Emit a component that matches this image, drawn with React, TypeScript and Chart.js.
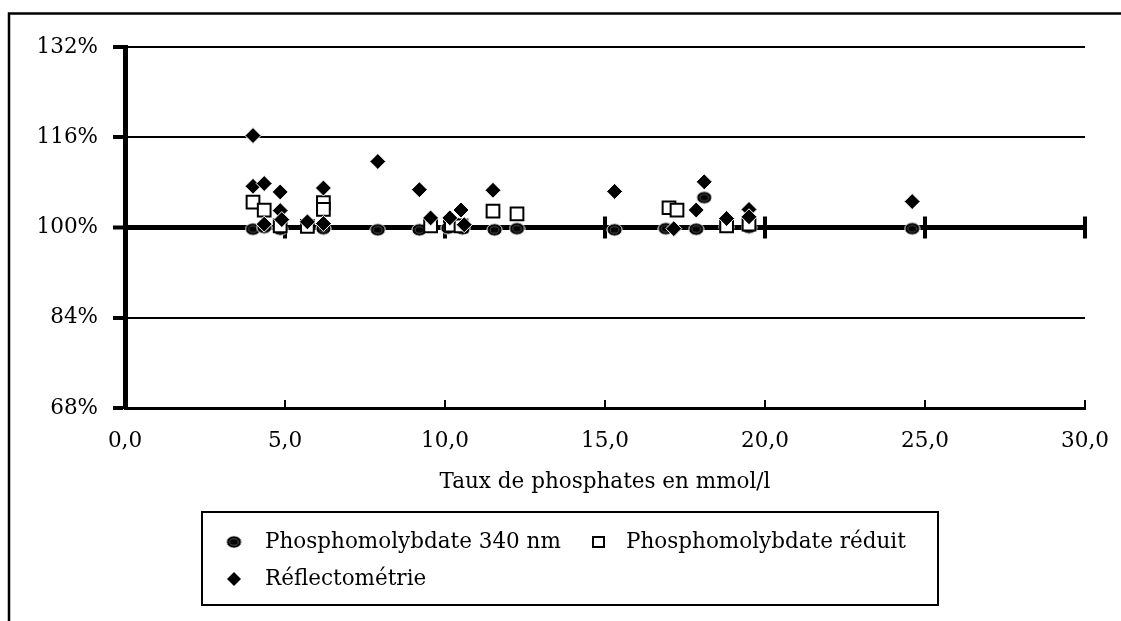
import React, { useEffect, useRef } from "react";
import { Chart, registerables } from "chart.js";

Chart.register(...registerables);

// ---- axis settings ----
const xMin = 0;
const xMax = 30;
const xStep = 5;
const yMin = 68;
const yMax = 132;
const yStep = 16;
const refValue = 100;
const xTitle = "Taux de phosphates en mmol/l";
const seriesNames = ["Phosphomolybdate 340 nm", "Phosphomolybdate réduit", "Réflectométrie"];

// ---- data: Phosphomolybdate 340 nm (circles) ----
const circX = [4.0, 4.35, 4.85, 6.2, 7.9, 9.2, 10.1, 10.55, 11.55, 12.25, 15.3, 16.9, 17.85, 18.1, 18.8, 19.5, 24.6];
const circY = [99.7, 100.0, 99.7, 99.8, 99.6, 99.6, 99.9, 99.8, 99.6, 99.8, 99.6, 99.8, 99.7, 105.3, 100.1, 100.0, 99.8];

// ---- data: Phosphomolybdate réduit (open squares) ----
const sqX = [4.0, 4.35, 4.85, 5.7, 6.2, 6.2, 9.55, 10.2, 10.5, 11.5, 12.25, 17.0, 17.25, 18.8, 19.5];
const sqY = [104.5, 103.1, 100.3, 100.2, 104.4, 103.2, 100.3, 100.4, 100.3, 102.9, 102.4, 103.5, 103.1, 100.3, 100.6];

// ---- data: Réflectométrie (diamonds) ----
const diaX = [4.0, 4.0, 4.35, 4.35, 4.85, 4.85, 4.9, 5.7, 6.2, 6.2, 7.9, 9.2, 9.55, 10.15, 10.5, 10.6, 11.5, 15.3, 17.15, 17.85, 18.1, 18.8, 19.5, 19.5, 24.6];
const diaY = [116.3, 107.3, 107.8, 100.6, 106.3, 103.0, 101.4, 101.0, 107.0, 100.7, 111.7, 106.7, 101.7, 101.7, 103.1, 100.5, 106.6, 106.4, 99.8, 103.1, 108.1, 101.6, 103.2, 101.9, 104.6];

const FONT_FAMILY = "'DejaVu Serif', serif";
const FONT_SIZE = 21.5;

function makeEllipse(): HTMLCanvasElement {
  const c = document.createElement("canvas");
  c.width = 17;
  c.height = 14;
  const g = c.getContext("2d")!;
  g.beginPath();
  g.ellipse(8.5, 7, 7.6, 6.2, 0, 0, Math.PI * 2);
  g.fillStyle = "#000";
  g.fill();
  g.lineWidth = 1;
  g.strokeStyle = "#fff";
  g.stroke();
  g.beginPath();
  g.ellipse(8.5, 7, 4.4, 3.2, 0, 0, Math.PI * 2);
  g.strokeStyle = "#555";
  g.stroke();
  return c;
}

const toPts = (xs: number[], ys: number[]) => xs.map((x, i) => ({ x, y: ys[i] }));

export default function App() {
  const ref = useRef<HTMLCanvasElement>(null);

  useEffect(() => {
    if (!ref.current) return;
    const ellipse = makeEllipse();
    const font = { family: FONT_FAMILY, size: FONT_SIZE };

    const decor = {
      id: "decor",
      beforeDatasetsDraw(chart: any) {
        const { ctx, chartArea, scales } = chart;
        const x = scales.x;
        const y = scales.y;
        const yRef = y.getPixelForValue(refValue);
        ctx.save();
        ctx.strokeStyle = "#000";
        for (let v = xMin + xStep; v <= xMax; v += xStep) {
          const px = x.getPixelForValue(v);
          ctx.lineWidth = 4;
          ctx.beginPath();
          ctx.moveTo(px, yRef - 11);
          ctx.lineTo(px, yRef + 11);
          ctx.stroke();
          ctx.lineWidth = 2;
          ctx.beginPath();
          ctx.moveTo(px, chartArea.bottom);
          ctx.lineTo(px, chartArea.bottom - 8);
          ctx.stroke();
        }
        ctx.restore();
      },
      afterDraw(chart: any) {
        const { ctx } = chart;
        ctx.save();
        // outer frame
        ctx.strokeStyle = "#000";
        ctx.lineWidth = 2.5;
        ctx.strokeRect(9, 13.5, 1300, 800);
        // legend box
        ctx.lineWidth = 2;
        ctx.strokeRect(202, 512, 736, 93);
        ctx.fillStyle = "#000";
        ctx.font = `${FONT_SIZE}px ${FONT_FAMILY}`;
        ctx.textBaseline = "middle";
        ctx.textAlign = "left";
        const row1 = 542;
        const row2 = 579;
        // item 1: ellipse
        ctx.drawImage(ellipse, 234 - 8.5, row1 - 7);
        ctx.fillText(seriesNames[0], 265, row1);
        // item 2: open square
        ctx.lineWidth = 2;
        ctx.fillStyle = "#fff";
        ctx.fillRect(593, row1 - 5, 11, 10);
        ctx.strokeRect(593, row1 - 5, 11, 10);
        ctx.fillStyle = "#000";
        ctx.fillText(seriesNames[1], 626, row1);
        // item 3: diamond
        ctx.beginPath();
        ctx.moveTo(234, row2 - 7);
        ctx.lineTo(241, row2);
        ctx.lineTo(234, row2 + 7);
        ctx.lineTo(227, row2);
        ctx.closePath();
        ctx.fill();
        ctx.fillText(seriesNames[2], 265, row2);
        ctx.restore();
      },
    };

    const chart = new Chart(ref.current, {
      type: "scatter",
      data: {
        datasets: [
          {
            label: seriesNames[0],
            data: toPts(circX, circY),
            pointStyle: ellipse as any,
            pointRadius: 7,
            order: 3,
          },
          {
            label: seriesNames[1],
            data: toPts(sqX, sqY),
            pointStyle: "rect",
            pointRadius: 9,
            backgroundColor: "#fff",
            borderColor: "#000",
            borderWidth: 2,
            order: 2,
          },
          {
            label: seriesNames[2],
            data: toPts(diaX, diaY),
            pointStyle: "rectRot",
            pointRadius: 8,
            backgroundColor: "#000",
            borderColor: "#fff",
            borderWidth: 1,
            order: 1,
          },
        ],
      },
      options: {
        responsive: false,
        animation: false,
        devicePixelRatio: 1,
        layout: { padding: { left: 0, top: 47, right: 36, bottom: 126 } },
        plugins: {
          legend: { display: false },
          tooltip: { enabled: false },
        },
        scales: {
          x: {
            type: "linear",
            min: xMin,
            max: xMax,
            ticks: {
              stepSize: xStep,
              color: "#000",
              font,
              padding: 21,
              maxRotation: 0,
              callback: (v: any) => Number(v).toFixed(1).replace(".", ","),
            },
            grid: { display: true, drawOnChartArea: false, drawTicks: false },
            border: { display: true, color: "#000", width: 3 },
            title: {
              display: true,
              text: xTitle,
              color: "#000",
              font,
              padding: { top: 0, bottom: 0 },
            },
            afterFit: (s: any) => {
              s.height = 87;
              s.paddingLeft = 0;
              s.paddingRight = 0;
            },
          },
          y: {
            min: yMin,
            max: yMax,
            ticks: {
              stepSize: yStep,
              color: "#000",
              font,
              padding: 15,
              callback: (v: any) => `${v}%`,
            },
            grid: {
              color: "#000",
              lineWidth: (c: any) => (c.tick && c.tick.value === refValue ? 5 : 2),
              tickLength: 12,
              tickWidth: 4,
              tickColor: "#000",
            },
            border: { display: true, color: "#000", width: 5 },
            afterFit: (s: any) => {
              s.width = 125;
            },
          },
        },
      },
      plugins: [decor],
    });
    return () => chart.destroy();
  }, []);

  return (
    <div style={{ position: "absolute", left: 0, top: 0, width: 1121, height: 621, background: "#fff" }}>
      <canvas ref={ref} width={1121} height={621} style={{ display: "block" }} />
    </div>
  );
}
